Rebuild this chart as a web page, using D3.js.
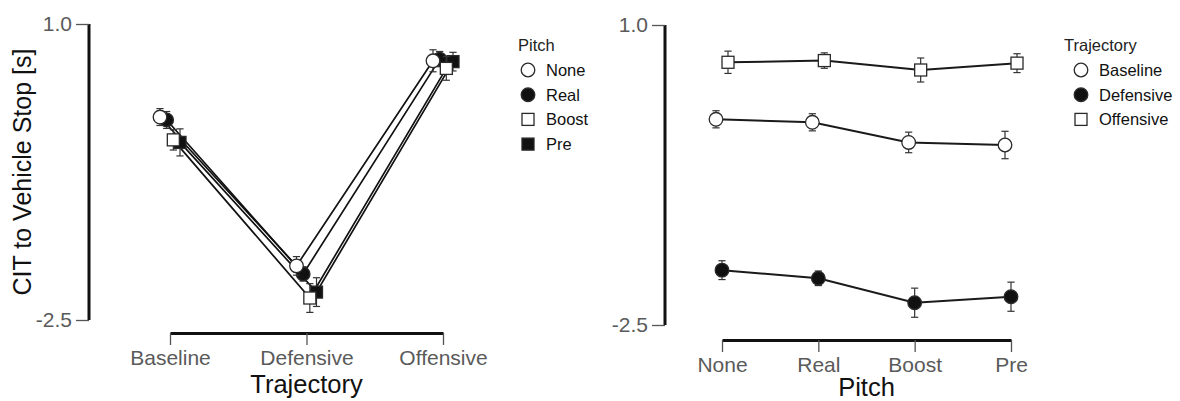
<!DOCTYPE html>
<html>
<head>
<meta charset="utf-8">
<script src="https://cdn.jsdelivr.net/npm/d3@7/dist/d3.min.js"></script>
<style>
  html, body { margin: 0; padding: 0; background: #fff; }
  svg { display: block; font-family: "Liberation Sans", Arial, sans-serif; }
</style>
</head>
<body>
<svg id="chart" width="1180" height="401"></svg>
<script>
// Factor levels
const trajectories = ["Baseline", "Defensive", "Offensive"];
const pitches = ["None", "Real", "Boost", "Pre"];

// Mean CIT to vehicle stop [s], one value per pitch condition (None, Real, Boost, Pre)
const baselineMean  = [-0.10, -0.135, -0.37, -0.40];
const defensiveMean = [-1.86, -1.955, -2.24, -2.17];
const offensiveMean = [0.565, 0.585, 0.475, 0.555];

// Standard errors, same ordering
const baselineErr  = [0.10, 0.10, 0.12, 0.16];
const defensiveErr = [0.11, 0.085, 0.17, 0.17];
const offensiveErr = [0.13, 0.09, 0.14, 0.11];

const yTicks = [1.0, -2.5];
const yTickLabels = ["1.0", "-2.5"];
const yDomain = [-2.5, 1.0];

const means = [baselineMean, defensiveMean, offensiveMean];
const errs = [baselineErr, defensiveErr, offensiveErr];

// Long-format rows built from the arrays above
const rows = [];
trajectories.forEach((t, ti) => {
  pitches.forEach((p, pi) => {
    rows.push({ trajectory: t, pitch: p, ti, pi, mean: means[ti][pi], se: errs[ti][pi] });
  });
});

const svg = d3.select("#chart");
const INK = "#111";
const TICKTXT = "#5a5a5a";

// Marker shapes: open/filled circles and squares
const pitchShape = { None: ["circle", false], Real: ["circle", true], Boost: ["square", false], Pre: ["square", true] };
const trajShape = { Baseline: ["circle", false], Defensive: ["circle", true], Offensive: ["square", false] };

function drawMarker(g, x, y, shape, filled) {
  if (shape === "circle") {
    g.append("circle").attr("cx", x).attr("cy", y).attr("r", 6.8)
      .attr("fill", filled ? INK : "#fff").attr("stroke", "#2a2a2a").attr("stroke-width", 1.3);
  } else {
    g.append("rect").attr("x", x - 6).attr("y", y - 6).attr("width", 12).attr("height", 12)
      .attr("fill", filled ? INK : "#fff").attr("stroke", "#2a2a2a").attr("stroke-width", 1.3);
  }
}

function drawErr(g, x, yScale, d) {
  const y0 = yScale(d.mean - d.se), y1 = yScale(d.mean + d.se);
  g.append("line").attr("x1", x).attr("x2", x).attr("y1", y0).attr("y2", y1)
    .attr("stroke", "#333").attr("stroke-width", 1.2);
  [y0, y1].forEach(yy => g.append("line").attr("x1", x - 3.6).attr("x2", x + 3.6)
    .attr("y1", yy).attr("y2", yy).attr("stroke", "#333").attr("stroke-width", 1.2));
}

function styleAxis(g) {
  g.select(".domain").attr("stroke", INK).attr("stroke-width", 3);
  g.selectAll(".tick line").attr("stroke", "#555").attr("stroke-width", 1.3);
  g.selectAll(".tick text").attr("fill", TICKTXT).style("font-size", "21px")
    .style("font-family", "'Liberation Sans', Arial, sans-serif");
}

function drawAxes(xScale, yScale, xAxisY, yAxisX, title, titleY) {
  const ya = svg.append("g").attr("transform", `translate(${yAxisX},0)`)
    .call(d3.axisLeft(yScale).tickValues(yTicks)
      .tickFormat((d, i) => yTickLabels[i])
      .tickSize(13).tickSizeOuter(0).tickPadding(4));
  ya.select(".domain").attr("d", `M0,${yScale(yDomain[1])}V${yScale(yDomain[0])}`);
  styleAxis(ya);

  const xa = svg.append("g").attr("transform", `translate(0,${xAxisY})`)
    .call(d3.axisBottom(xScale).tickSize(12).tickSizeOuter(0).tickPadding(5));
  styleAxis(xa);

  const r = xScale.range();
  svg.append("text").attr("x", (r[0] + r[1]) / 2).attr("y", titleY)
    .attr("text-anchor", "middle").attr("fill", INK).style("font-size", "25.5px").text(title);
}

function drawLegend(titleX, markerX, y, title, items, shapes) {
  const g = svg.append("g");
  g.append("text").attr("x", titleX).attr("y", y).attr("fill", "#222")
    .style("font-size", "16.5px").text(title);
  items.forEach((name, i) => {
    const cy = y + 19 + i * 24.7;
    drawMarker(g, markerX, cy, shapes[name][0], shapes[name][1]);
    g.append("text").attr("x", markerX + 18).attr("y", cy).attr("dy", "0.36em")
      .attr("fill", "#111").style("font-size", "16.5px").text(name);
  });
}

// ---------- Left panel: x = trajectory, series = pitch ----------
const xL = d3.scalePoint().domain(trajectories).range([170, 443]);
const yL = d3.scaleLinear().domain(yDomain).range([320, 24]);
const dodgeL = d3.scalePoint().domain(pitches).range([-10, 10]);

drawAxes(xL, yL, 333, 89, "Trajectory", 393);

const gL = svg.append("g");
const lineL = d3.line().x(d => xL(d.trajectory) + dodgeL(d.pitch)).y(d => yL(d.mean));
pitches.forEach(p => {
  gL.append("path").datum(rows.filter(r => r.pitch === p)).attr("d", lineL)
    .attr("fill", "none").attr("stroke", INK).attr("stroke-width", 1.7);
});
// filled markers first so the open ones sit on top
["Pre", "Real", "Boost", "None"].forEach(p => {
  rows.filter(r => r.pitch === p).forEach(d => {
    const x = xL(d.trajectory) + dodgeL(d.pitch);
    drawErr(gL, x, yL, d);
    drawMarker(gL, x, yL(d.mean), pitchShape[p][0], pitchShape[p][1]);
  });
});

// y axis title
svg.append("text").attr("transform", "translate(31,172) rotate(-90)")
  .attr("text-anchor", "middle").attr("fill", INK).style("font-size", "25px")
  .text("CIT to Vehicle Stop [s]");

drawLegend(518, 528, 51, "Pitch", pitches, pitchShape);

// ---------- Right panel: x = pitch, series = trajectory ----------
const xR = d3.scalePoint().domain(pitches).range([722, 1011]);
const yR = d3.scaleLinear().domain(yDomain).range([325, 25]);
const dodgeR = d3.scalePoint().domain(trajectories).range([-6, 6]);

drawAxes(xR, yR, 340, 665, "Pitch", 396);

const gR = svg.append("g");
const lineR = d3.line().x(d => xR(d.pitch) + dodgeR(d.trajectory)).y(d => yR(d.mean));
trajectories.forEach(t => {
  const data = rows.filter(r => r.trajectory === t);
  gR.append("path").datum(data).attr("d", lineR)
    .attr("fill", "none").attr("stroke", "#1a1a1a").attr("stroke-width", 2);
  data.forEach(d => {
    const x = xR(d.pitch) + dodgeR(d.trajectory);
    drawErr(gR, x, yR, d);
    drawMarker(gR, x, yR(d.mean), trajShape[t][0], trajShape[t][1]);
  });
});

drawLegend(1064, 1081, 51, "Trajectory", trajectories, trajShape);
</script>
</body>
</html>
